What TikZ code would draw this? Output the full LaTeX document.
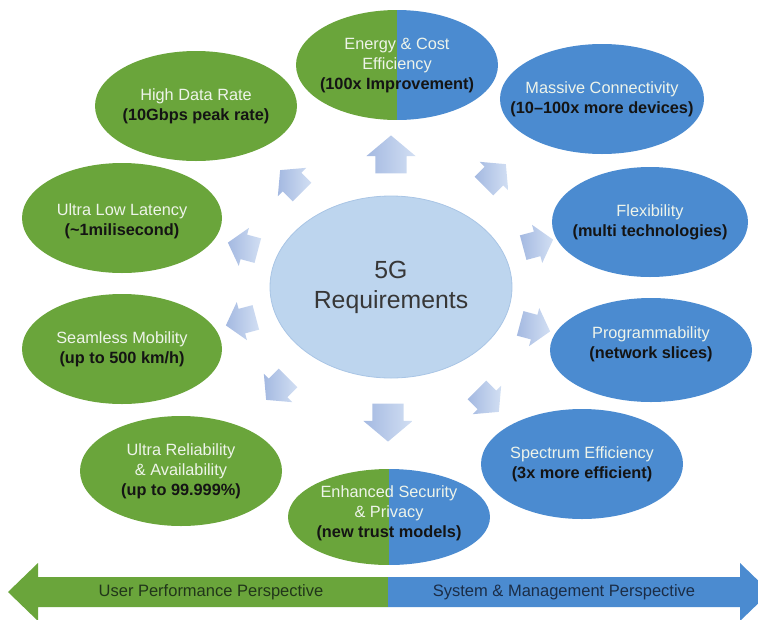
\documentclass[tikz,border=0pt]{standalone}
\usepackage{fontspec}
\setmainfont{Liberation Sans}
\usetikzlibrary{shapes.geometric,shapes.arrows}
\definecolor{grn}{HTML}{6AA53B}
\definecolor{blu}{HTML}{4B8BD0}
\definecolor{core}{HTML}{BDD5EE}
\definecolor{coreedge}{HTML}{A9C5E5}
\definecolor{lite}{HTML}{EEF4EA}
\definecolor{arrlight}{HTML}{D2DFF3}
\definecolor{arrdark}{HTML}{A4B9E1}
\definecolor{gtext}{HTML}{21361A}
\definecolor{btext}{HTML}{1B2D47}
\definecolor{ink}{HTML}{141414}
\begin{document}
\begin{tikzpicture}[x=1pt,y=-1pt,
  req/.style={ellipse, minimum width=202pt, minimum height=110pt, inner sep=0pt},
  greq/.style={req, fill=grn},
  breq/.style={req, fill=blu},
  sreq/.style={req, path picture={
    \fill[grn] (path picture bounding box.south west) rectangle (path picture bounding box.north);
    \fill[blu] (path picture bounding box.south) rectangle (path picture bounding box.north east);}},
  lbl/.style={align=center, inner sep=0pt, text=ink, font=\fontsize{16.3}{20}\selectfont},
  blk/.style={single arrow, draw=none, inner sep=0pt, single arrow tip angle=100,
    single arrow head extend=9pt, minimum height=38pt,
    left color=arrdark, right color=arrlight},
  blks/.style={blk, minimum height=31pt, single arrow head extend=7pt},
  persp/.style={font=\fontsize{16.5}{18}\selectfont},
]
\useasboundingbox (0,0) rectangle (758,619);
\clip (0,0) rectangle (758,619);

% centre
\node[ellipse, minimum width=242pt, minimum height=182pt, inner sep=0pt, fill=core,
  draw=coreedge, line width=0.8pt] (core) at (391,287) {};
\node[lbl, text=ink!85, font=\fontsize{24.8}{30}\selectfont] (core-t) at (core) {5G\\Requirements};

% requirement ellipses
\newcommand{\reqtext}[2]{\textcolor{lite}{#1}\\\textbf{#2}}
\node[sreq] (ece) at (397,65) {};
\node[greq] (hdr) at (196,106) {};
\node[greq, minimum width=200pt] (ull) at (122,218) {};
\node[greq, minimum width=200pt] (smo) at (122,349) {};
\node[greq] (ura) at (181,471) {};
\node[breq, minimum width=204pt] (mco) at (602,99) {};
\node[breq, minimum width=196pt] (flx) at (650,222) {};
\node[breq, minimum height=104pt] (prg) at (651,350) {};
\node[breq] (spe) at (582,464) {};
\node[sreq, minimum height=96pt] (esp) at (389,517) {};

% their texts
\node[lbl] (ece-t) at (ece) {\textcolor{lite}{Energy \& Cost}\\\textcolor{lite}{Efficiency}\\\textbf{(100x Improvement)}};
\node[lbl] (hdr-t) at (hdr) {\reqtext{High Data Rate}{(10Gbps peak rate)}};
\node[lbl] (ull-t) at ([yshift=-3pt]ull.center) {\reqtext{Ultra Low Latency}{(\textasciitilde1milisecond)}};
\node[lbl] (smo-t) at (smo) {\reqtext{Seamless Mobility}{(up to 500 km/h)}};
\node[lbl] (ura-t) at (ura) {\textcolor{lite}{Ultra Reliability}\\\textcolor{lite}{\& Availability}\\\textbf{(up to 99.999\%)}};
\node[lbl] (mco-t) at (mco) {\reqtext{Massive Connectivity}{(10--100x more devices)}};
\node[lbl] (flx-t) at (flx) {\reqtext{Flexibility}{(multi technologies)}};
\node[lbl] (prg-t) at ([yshift=6pt]prg.center) {\reqtext{Programmability}{(network slices)}};
\node[lbl] (spe-t) at (spe) {\reqtext{Spectrum Efficiency}{(3x more efficient)}};
\node[lbl] (esp-t) at ([yshift=4pt]esp.center) {\textcolor{lite}{Enhanced Security}\\\textcolor{lite}{\& Privacy}\\\textbf{(new trust models)}};

% block arrows pointing outward
\node[blk, rotate=90]   (a1)  at (391,161) {\rule{0pt}{31pt}};
\node[blks, rotate=135] (a2)  at (295,185) {\rule{0pt}{26pt}};
\node[blks, rotate=45]  (a3)  at (491,179) {\rule{0pt}{26pt}};
\node[blks, rotate=165] (a4)  at (248,248) {\rule{0pt}{25pt}};
\node[blks, rotate=195] (a5)  at (246,320) {\rule{0pt}{25pt}};
\node[blks, rotate=225] (a6)  at (281,385) {\rule{0pt}{26pt}};
\node[blk, rotate=270]  (a7)  at (388,416) {\rule{0pt}{31pt}};
\node[blks, rotate=315] (a8)  at (484,397) {\rule{0pt}{26pt}};
\node[blks, rotate=-15] (a9)  at (530,326) {\rule{0pt}{25pt}};
\node[blks, rotate=15]  (a10) at (533,245) {\rule{0pt}{25pt}};

% perspective bar
\fill[grn] (8,592) -- (38,563) -- (38,577) -- (388,577) -- (388,607) -- (38,607) -- (38,621) -- cycle;
\fill[blu] (388,577) -- (740,577) -- (740,563) -- (770,592) -- (740,621) -- (740,607) -- (388,607) -- cycle;
\node[persp, text=gtext] (upp) at (211,592) {User Performance Perspective};
\node[persp, text=btext] (smp) at (564,592) {System \& Management Perspective};
\end{tikzpicture}
\end{document}
